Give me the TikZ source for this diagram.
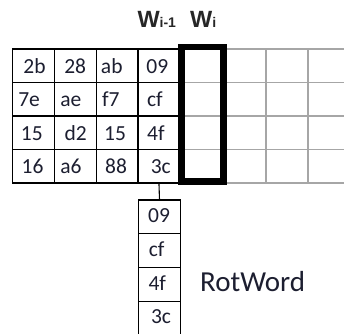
\documentclass[tikz,border=0pt]{standalone}
\usepackage{fontspec}
\setmainfont{Carlito}
\newfontfamily\labfont{Liberation Sans}
\definecolor{txt}{RGB}{28,30,48}
\definecolor{gridgrey}{HTML}{A6A6A6}
\begin{document}
\begin{tikzpicture}[x=1pt,y=-1pt,
  cell/.style={draw=black,line width=1.1pt,minimum width=41.8pt,minimum height=33.5pt,inner sep=0pt,outer sep=0pt},
  val/.style={font=\fontsize{21.5}{21.5}\selectfont,text=txt,inner sep=0pt,anchor=base},
  lab/.style={font=\labfont\bfseries\fontsize{23.5}{23.5}\selectfont,text=black!85,inner sep=0pt,anchor=base west},
  greyline/.style={draw=gridgrey,line width=1.5pt},
  thickbox/.style={draw=black,line width=6.5pt},
  conn/.style={draw=black,line width=1.1pt}]
\useasboundingbox (0,0) rectangle (344,333);
% grey grid to the right
\draw[greyline] (180,48.8) -- (344,48.8);
\draw[greyline] (180,82.4) -- (344,82.4);
\draw[greyline] (180,116) -- (344,116);
\draw[greyline] (180,149.6) -- (344,149.6);
\draw[greyline] (180,183.2) -- (344,183.2);
\draw[greyline] (266,48.8) -- (266,183.2);
\draw[greyline] (307.8,48.8) -- (307.8,183.2);
% left state grid
\foreach \r/\row in {1/{2b/1.2,28/0,ab/-5.3,09/-1.6},2/{7e/-4.2,ae/-4.4,f7/-6.2,cf/-4},3/{15/-1.5,d2/0.6,15/-2,4f/-3.1},4/{16/-0.7,a6/-4.3,88/-1,3c/1.8}}{
  \foreach \t/\dx [count=\c] in \row {
    \node[cell] (c\r\c) at ({12.3+41.9*(\c-0.5)},{49+33.5*(\r-0.5)}) {};
    \node[val] (t\r\c) at ([xshift=\dx pt,yshift=-7.3pt]c\r\c.center) {\t};
  }
}
% thick W_i box
\node[thickbox,minimum width=42pt,minimum height=134.7pt,inner sep=0pt,outer sep=0pt] (wi) at (202.7,114.35) {};
% labels
\node[lab] (lw1) at (137.3,27.3) {W\fontsize{14}{14}\selectfont i-1};
\node[lab] (lw2) at (190,27.3) {W\fontsize{14}{14}\selectfont i};
% RotWord column
\foreach \t/\dx [count=\k] in {09/-0.5,cf/-2.8,4f/-2.2,3c/1.5}{
  \node[cell,minimum height=33.7pt] (r\k) at (159.5,{200+33.7*(\k-0.5)}) {};
  \node[val] (rt\k) at ([xshift=\dx pt,yshift=-6pt]r\k.center) {\t};
}
\draw[conn] (c44.south) -- (r1.north);
\node[font=\fontsize{29}{29}\selectfont,text=txt,inner sep=0pt,anchor=base west] (rot) at (200,291) {RotWord};
\end{tikzpicture}
\end{document}
